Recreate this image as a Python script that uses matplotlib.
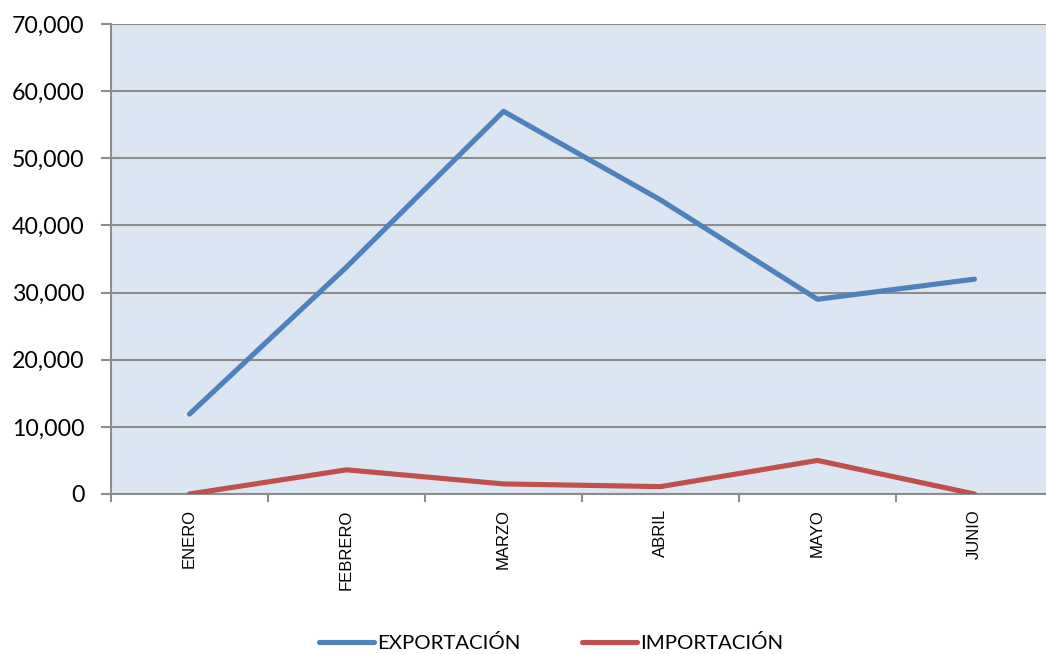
import numpy as np
import matplotlib.pyplot as plt
from matplotlib.ticker import FuncFormatter

MESES = ['ENERO', 'FEBRERO', 'MARZO', 'ABRIL', 'MAYO', 'JUNIO']
EXPORTACION = [11900, 33800, 57000, 43800, 29000, 32000]
IMPORTACION = [0, 3600, 1500, 1100, 5000, 0]

BLUE = '#4F81BD'
RED = '#C0504D'
GRID = '#8C8C8C'

fig = plt.figure(figsize=(10.46, 6.54), dpi=100)
ax = fig.add_axes([111 / 1046, 1 - 494 / 654, 942 / 1046, 470 / 654])
ax.set_facecolor('#DCE6F2')

x = np.arange(len(MESES))
ax.plot(x, EXPORTACION, color=BLUE, lw=3.7, label='EXPORTACIÓN', solid_capstyle='round', zorder=3)
ax.plot(x, IMPORTACION, color=RED, lw=3.7, label='IMPORTACIÓN', solid_capstyle='round', zorder=3)

ax.set_xlim(-0.5, 5.5)
ax.set_ylim(0, 70000)
ax.set_yticks(np.arange(0, 70001, 10000))
ax.yaxis.set_major_formatter(FuncFormatter(lambda v, p: f'{int(v):,}'))
ax.grid(axis='y', color=GRID, lw=1.5, zorder=1)
ax.set_axisbelow(True)

# tick marks on category boundaries, labels in the middle
ax.set_xticks(np.arange(-0.5, 6, 1))
ax.set_xticklabels([])
ax.set_xticks(x, minor=True)
ax.set_xticklabels(MESES, minor=True, rotation=90, fontsize=12,
                   family='Liberation Sans', va='top', ha='center')
ax.tick_params(axis='x', which='major', length=6, width=1.5, color=GRID, direction='out')
ax.tick_params(axis='x', which='minor', length=0, pad=11)
ax.tick_params(axis='y', length=7, width=1.5, color=GRID, pad=12, labelsize=16.7)
for lab in ax.get_yticklabels():
    lab.set_family('Lato')

for s in ['top', 'right']:
    ax.spines[s].set_visible(False)
for s in ['left', 'bottom']:
    ax.spines[s].set_color(GRID)
    ax.spines[s].set_linewidth(1.5)

fig.legend(loc='lower center', bbox_to_anchor=(0.527, -0.025), ncol=2, frameon=False,
           prop={'family': 'Lato', 'size': 14.7}, handlelength=2.7, handletextpad=0.15,
           columnspacing=3.0)

fig.savefig('out.png', dpi=100)
